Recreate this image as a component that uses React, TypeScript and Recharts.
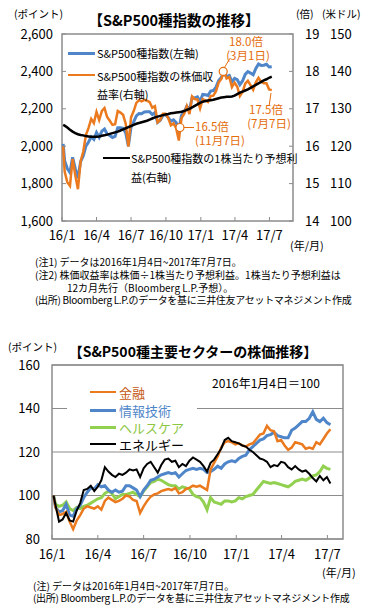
import React from "react";
import {
  LineChart,
  Line,
  XAxis,
  YAxis,
  CartesianGrid,
  ReferenceArea,
  ReferenceDot,
  ReferenceLine,
} from "recharts";

// x = days since 2016-01-01 (first point 1/4, then every Friday up to 2017/7/7)
const weekDays = [3, ...Array.from({ length: 79 }, (_, i) => 7 * (i + 1))];
const quarterTicks = [0, 91, 182, 274, 366, 456, 547];
const quarterLabels = ["16/1", "16/4", "16/7", "16/10", "17/1", "17/4", "17/7"];

const pxTicks = [1600, 1800, 2000, 2200, 2400, 2600];
const perTicks = [14, 15, 16, 17, 18, 19];
const epsTicks = [100, 110, 120, 130, 140, 150];
const sectorTicks = [80, 100, 120, 140, 160];

// S&P500 index (left axis)
const spx = [
  2012.66, 1922.03, 1880.33, 1859.33, 1940.24, 1880.05, 1829.08, 1917.78, 1948.05, 1999.99,
  2022.19, 2049.58, 2035.94, 2072.78, 2047.6, 2080.73, 2091.58, 2065.3, 2057.14, 2046.61,
  2052.32, 2099.06, 2099.13, 2096.07, 2071.22, 2000.54, 2102.95, 2129.9, 2161.74, 2175.03,
  2173.6, 2182.87, 2184.05, 2183.87, 2169.04, 2179.98, 2127.81, 2139.16, 2164.69, 2168.27,
  2153.74, 2132.98, 2141.16, 2126.41, 2085.18, 2164.45, 2181.9, 2213.35, 2191.95, 2259.53,
  2258.07, 2263.79, 2238.83, 2276.98, 2274.64, 2271.31, 2294.69, 2297.42, 2316.1, 2351.16,
  2367.34, 2395.96, 2372.6, 2378.25, 2343.98, 2362.72, 2355.54, 2328.95, 2348.69, 2384.2,
  2399.29, 2390.9, 2381.73, 2415.82, 2439.07, 2431.77, 2433.15, 2438.3, 2423.41, 2425.18,
];

// PER (right axis, 倍)
const per = [
  16.01, 15.32, 15.04, 14.94, 15.66, 15.22, 14.85, 15.59, 15.85, 16.3,
  16.49, 16.73, 16.62, 16.92, 16.7, 16.94, 17.02, 16.78, 16.68, 16.57,
  16.59, 16.94, 16.9, 16.84, 16.6, 15.99, 16.77, 16.94, 17.16, 17.23,
  17.2, 17.24, 17.22, 17.18, 17.03, 17.07, 16.64, 16.7, 16.87, 16.87,
  16.75, 16.56, 16.61, 16.48, 16.15, 16.75, 16.86, 17.07, 16.86, 17.33,
  17.26, 17.25, 17.01, 17.26, 17.22, 17.18, 17.34, 17.35, 17.47, 17.7,
  17.8, 17.98, 17.81, 17.85, 17.58, 17.7, 17.59, 17.34, 17.45, 17.67,
  17.75, 17.63, 17.51, 17.71, 17.83, 17.72, 17.68, 17.68, 17.52, 17.5,
];

// 12M forward EPS (right axis, 米ドル)
const eps = [
  125.7, 125.5, 125.0, 124.4, 123.9, 123.5, 123.2, 123.0, 122.9, 122.7,
  122.6, 122.5, 122.5, 122.5, 122.6, 122.8, 122.9, 123.1, 123.3, 123.5,
  123.7, 123.9, 124.2, 124.5, 124.8, 125.1, 125.4, 125.7, 126.0, 126.2,
  126.4, 126.6, 126.8, 127.1, 127.4, 127.7, 127.9, 128.1, 128.3, 128.5,
  128.6, 128.8, 128.9, 129.0, 129.1, 129.2, 129.4, 129.7, 130.0, 130.4,
  130.8, 131.2, 131.6, 131.9, 132.1, 132.2, 132.3, 132.4, 132.6, 132.8,
  133.0, 133.1, 133.2, 133.2, 133.3, 133.5, 133.9, 134.3, 134.6, 134.9,
  135.2, 135.6, 136.0, 136.4, 136.8, 137.2, 137.6, 137.9, 138.3, 138.6,
];

// sectors, 2016/1/4 = 100
const financials = [
  100, 94.5, 91, 91.5, 92.5, 88, 84.5, 88.5, 91, 94,
  95, 94.5, 94, 95, 93.5, 97.5, 99, 98, 97, 97.5,
  98.5, 100, 99.5, 98, 97.5, 92, 95, 97.5, 99.5, 100.5,
  101, 102, 102.5, 103, 102.5, 103.5, 101, 101.5, 103, 103.5,
  104.5, 104, 104.5, 103.5, 102.5, 112, 115, 118, 122, 124.5,
  125, 124.5, 123.5, 124, 123, 122.5, 123.5, 124, 126, 128,
  128.5, 132, 130, 129.5, 125, 125.5, 123, 121, 122, 124.5,
  124, 123.5, 121.5, 122, 121.5, 124.5, 123.5, 126, 128.5, 130.5,
];
const infoTech = [
  100, 94.5, 92.5, 93, 96, 91, 90.5, 94, 95.5, 99,
  101.5, 103.5, 103, 105, 104, 104.5, 102.5, 101.5, 102.5, 101.5,
  102, 104.5, 104.5, 103.5, 102.5, 99.5, 102.5, 104.5, 107, 107.5,
  108.5, 109.5, 110, 110.5, 110, 110.5, 108.5, 110, 111.5, 112,
  112.5, 112, 112.5, 112, 110.5, 111, 112, 113.5, 112.5, 114.5,
  115.5, 116, 115.5, 117, 118, 118.5, 121, 122.5, 124, 125.5,
  126, 127.5, 128, 129, 127.5, 127, 126.5, 126.5, 130, 131,
  132.5, 134, 134, 135.5, 138.5, 135, 134, 135.5, 133.5, 132.5,
];
const healthCare = [
  100, 96, 95, 95.5, 97, 94, 93, 94.5, 94, 95,
  95.5, 96.5, 97.5, 98.5, 99, 101, 102, 101, 98.5, 99.5,
  100.5, 100.5, 101, 101.5, 100.5, 99.5, 102, 104, 106, 106.5,
  107.5, 107, 106, 105, 104.5, 104.5, 103, 104, 103.5, 103,
  100.5, 99.5, 99, 97, 93.5, 99, 97, 96.5, 96, 97.5,
  97.5, 97, 97.5, 99, 98.5, 99.5, 100, 100.5, 102.5, 104.5,
  106.5, 106, 105.5, 106, 105.5, 105, 104.5, 104, 105, 106.5,
  107, 107.5, 107, 108, 109, 109.5, 111, 113.5, 112.5, 112,
];
const energy = [
  100, 95.5, 88, 89, 92, 88.5, 88, 93, 96.5, 102.5,
  103, 104.5, 102, 104, 107, 113, 111, 109.5, 108.5, 110,
  109.5, 110.5, 112, 111.5, 112, 108.5, 112.5, 114.5, 115.5, 113,
  110.5, 114, 116.5, 117, 115.5, 116, 113, 114.5, 113.5, 116,
  117.5, 116.5, 115.5, 113.5, 111, 115, 116.5, 119, 121.5, 125.5,
  126.5, 125, 124.5, 124, 123, 122.5, 121, 120, 118.5, 117,
  116.5, 115.5, 113, 114, 113.5, 115.5, 115, 113, 112, 113.5,
  112, 111, 111.5, 110, 108, 106.5, 109, 107, 108.5, 105.5,
];

const BLUE = "#4F86C9";
const ORANGE = "#EB7A1E";
const GREEN = "#92D050";
const GRAY = "#8C8C8C";
const NOTE_ORANGE = "#E46C0A";
const FONT = "'Noto Sans CJK JP', 'Noto Sans', sans-serif";

const topRows = weekDays.map((day, i) => ({ day, spx: spx[i], per: per[i], eps: eps[i] }));
const sectorRows = weekDays.map((day, i) => ({
  day,
  fin: financials[i],
  it: infoTech[i],
  hc: healthCare[i],
  en: energy[i],
}));

const fmtQuarter = (v: number) => quarterLabels[quarterTicks.indexOf(v)] ?? "";
const tickStyle = { fill: "#000", fontSize: 13, fontFamily: FONT };

function Txt({ x, y, size = 11, color = "#000", bold = false, anchor = "start", ls = 0, children }: any) {
  const shift = anchor === "middle" ? "translateX(-50%)" : anchor === "end" ? "translateX(-100%)" : undefined;
  return (
    <div
      style={{
        position: "absolute",
        left: x,
        top: y - size * 0.5,
        fontSize: size,
        lineHeight: `${size}px`,
        color,
        fontWeight: bold ? 700 : 400,
        letterSpacing: ls,
        whiteSpace: "nowrap",
        transform: shift,
      }}
    >
      {children}
    </div>
  );
}

// multi-line note block, first line centred on y
function Notes({ x, y, lh, size = 10, children }: any) {
  return (
    <div
      style={{
        position: "absolute",
        left: x,
        top: y - lh / 2,
        fontSize: size,
        lineHeight: `${lh}px`,
        whiteSpace: "nowrap",
      }}
    >
      {children}
    </div>
  );
}

function Swatch({ x1, x2, y, color, w }: any) {
  return (
    <div style={{ position: "absolute", left: x1, top: y - w / 2, width: x2 - x1, height: w, background: color }} />
  );
}

function IndexChart() {
  return (
    <div style={{ position: "absolute", left: 0, top: 0 }}>
      <LineChart width={373} height={255} data={topRows} margin={{ top: 34, right: 0, bottom: 4, left: 0 }}>
        <XAxis
          dataKey="day"
          type="number"
          domain={[0, 609]}
          ticks={quarterTicks}
          tickFormatter={fmtQuarter}
          interval={0}
          height={30}
          axisLine={false}
          tickLine={{ stroke: GRAY }}
          tickSize={-4}
          tickMargin={14}
          tick={tickStyle}
        />
        <YAxis
          yAxisId="px"
          orientation="left"
          width={62}
          domain={[1600, 2600]}
          ticks={pxTicks}
          interval={0}
          tickFormatter={(v: number) => v.toLocaleString("en-US")}
          axisLine={false}
          tickLine={{ stroke: GRAY }}
          tickSize={-4}
          tickMargin={13}
          tick={tickStyle}
        />
        <YAxis
          yAxisId="per"
          orientation="right"
          width={30}
          domain={[14, 19]}
          ticks={perTicks}
          interval={0}
          axisLine={false}
          tickLine={{ stroke: GRAY }}
          tickSize={-4}
          tickMargin={16}
          tick={tickStyle}
        />
        <YAxis
          yAxisId="usd"
          orientation="right"
          width={50}
          domain={[100, 150]}
          ticks={epsTicks}
          interval={0}
          axisLine={false}
          tickLine={false}
          tickSize={0}
          tickMargin={7}
          tick={tickStyle}
        />
        <ReferenceArea
          yAxisId="px"
          x1={0}
          x2={609}
          y1={1600}
          y2={2600}
          fill="none"
          stroke={GRAY}
          strokeWidth={1.5}
          fillOpacity={0}
          ifOverflow="visible"
        />
        <Line yAxisId="px" dataKey="spx" stroke={BLUE} strokeWidth={3} dot={false} isAnimationActive={false} />
        <Line yAxisId="per" dataKey="per" stroke={ORANGE} strokeWidth={2.5} dot={false} isAnimationActive={false} />
        <Line yAxisId="usd" dataKey="eps" stroke="#000" strokeWidth={2.5} dot={false} isAnimationActive={false} />
        <ReferenceLine yAxisId="per" segment={[{ x: 428, y: 18.1 }, { x: 443, y: 18.35 }]} stroke={NOTE_ORANGE} strokeWidth={1} />
        <ReferenceLine yAxisId="per" segment={[{ x: 318, y: 16.5 }, { x: 348, y: 16.5 }]} stroke={NOTE_ORANGE} strokeWidth={1} />
        <ReferenceLine yAxisId="per" segment={[{ x: 551, y: 17.42 }, { x: 546, y: 17.08 }]} stroke={NOTE_ORANGE} strokeWidth={1} />
        <ReferenceDot yAxisId="per" x={425} y={18.0} r={4} fill="#fff" stroke={NOTE_ORANGE} strokeWidth={1.2} />
        <ReferenceDot yAxisId="per" x={311} y={16.5} r={4} fill="#fff" stroke={NOTE_ORANGE} strokeWidth={1.2} />
      </LineChart>
    </div>
  );
}

function SectorChart() {
  return (
    <div style={{ position: "absolute", left: 0, top: 330 }}>
      <LineChart width={373} height={245} data={sectorRows} margin={{ top: 35, right: 30, bottom: 1, left: 0 }}>
        <CartesianGrid vertical={false} stroke={GRAY} />
        <XAxis
          dataKey="day"
          type="number"
          domain={[0, 578]}
          ticks={quarterTicks}
          tickFormatter={fmtQuarter}
          interval={0}
          height={35}
          axisLine={false}
          tickLine={{ stroke: GRAY }}
          tickSize={-4}
          tickMargin={15}
          tick={tickStyle}
        />
        <YAxis
          width={52}
          domain={[80, 160]}
          ticks={sectorTicks}
          interval={0}
          axisLine={false}
          tickLine={false}
          tickSize={0}
          tickMargin={12}
          tick={tickStyle}
        />
        <ReferenceArea x1={0} x2={578} y1={80} y2={160} fill="none" fillOpacity={0} stroke={GRAY} strokeWidth={1.5} ifOverflow="visible" />
        <Line dataKey="hc" stroke={GREEN} strokeWidth={3} dot={false} isAnimationActive={false} />
        <Line dataKey="it" stroke={BLUE} strokeWidth={3} dot={false} isAnimationActive={false} />
        <Line dataKey="fin" stroke={ORANGE} strokeWidth={2.5} dot={false} isAnimationActive={false} />
        <Line dataKey="en" stroke="#000" strokeWidth={2} dot={false} isAnimationActive={false} />
      </LineChart>
    </div>
  );
}

export default function App() {
  return (
    <div
      style={{
        position: "fixed",
        left: 0,
        top: 0,
        width: 373,
        height: 610,
        background: "#fff",
        fontFamily: FONT,
        color: "#000",
      }}
    >
      <IndexChart />
      <Txt x={14} y={14} size={10.5}>(ポイント)</Txt>
      <Txt x={174} y={20} size={14.5} bold anchor="middle">【S&amp;P500種指数の推移】</Txt>
      <Txt x={296} y={14} size={10.5}>(倍)</Txt>
      <Txt x={322} y={14} size={10.5}>(米ドル)</Txt>

      <Swatch x1={68} x2={95} y={53} color={BLUE} w={3} />
      <Txt x={97} y={53} size={11}>S&amp;P500種指数(左軸)</Txt>
      <Swatch x1={68} x2={95} y={75} color={ORANGE} w={2.5} />
      <Txt x={97} y={76} size={11}>S&amp;P500種指数の株価収</Txt>
      <Txt x={97} y={94} size={11}>益率(右軸)</Txt>
      <Swatch x1={103} x2={130} y={158} color="#000" w={2.5} />
      <Txt x={131} y={158} size={11}>S&amp;P500種指数の1株当たり予想利</Txt>
      <Txt x={131} y={177} size={11}>益(右軸)</Txt>

      <Txt x={246} y={41.5} size={11.5} color={NOTE_ORANGE} anchor="middle">18.0倍</Txt>
      <Txt x={248} y={55.5} size={11.5} color={NOTE_ORANGE} anchor="middle">(3月1日)</Txt>
      <Txt x={195} y={126.5} size={11.5} color={NOTE_ORANGE}>16.5倍</Txt>
      <Txt x={195} y={140.5} size={11.5} color={NOTE_ORANGE}>(11月7日)</Txt>
      <Txt x={266} y={109.5} size={11.5} color={NOTE_ORANGE} anchor="middle">17.5倍</Txt>
      <Txt x={269} y={123.5} size={11.5} color={NOTE_ORANGE} anchor="middle">(7月7日)</Txt>

      <Txt x={290} y={245} size={11}>(年/月)</Txt>
      <Notes x={35} y={262.5} lh={12.8}>
        (注1) データは2016年1月4日~2017年7月7日。
        <br />
        (注2) 株価収益率は株価÷1株当たり予想利益。1株当たり予想利益は
        <br />
        <span style={{ paddingLeft: 32 }}>12カ月先行（Bloomberg L.P.予想）。</span>
        <br />
        <span style={{ letterSpacing: -0.3 }}>(出所) Bloomberg L.P.のデータを基に三井住友アセットマネジメント作成</span>
      </Notes>

      <SectorChart />
      <Txt x={8} y={347} size={10.5}>(ポイント)</Txt>
      <Txt x={193} y={351} size={14} bold anchor="middle">【S&amp;P500種主要セクターの株価推移】</Txt>
      <Txt x={212} y={383} size={12}>2016年1月4日＝100</Txt>

      <div style={{ position: "absolute", left: 67, top: 384, width: 130, height: 64, background: "#fff" }} />
      <Swatch x1={90} x2={116} y={392} color={ORANGE} w={2.5} />
      <Txt x={119} y={392} size={13} color="#C55A11">金融</Txt>
      <Swatch x1={90} x2={116} y={410} color={BLUE} w={3} />
      <Txt x={119} y={410} size={13} color="#4F86C9">情報技術</Txt>
      <Swatch x1={90} x2={116} y={427} color={GREEN} w={3} />
      <Txt x={119} y={427} size={13} color="#8CC63F">ヘルスケア</Txt>
      <Swatch x1={90} x2={116} y={444} color="#000" w={2} />
      <Txt x={119} y={444} size={13}>エネルギー</Txt>

      <Txt x={322} y={572} size={11}>(年/月)</Txt>
      <Notes x={33} y={586} lh={12.3}>
        (注) データは2016年1月4日~2017年7月7日。
        <br />
        <span style={{ letterSpacing: -0.3 }}>(出所) Bloomberg L.P.のデータを基に三井住友アセットマネジメント作成</span>
      </Notes>
    </div>
  );
}
